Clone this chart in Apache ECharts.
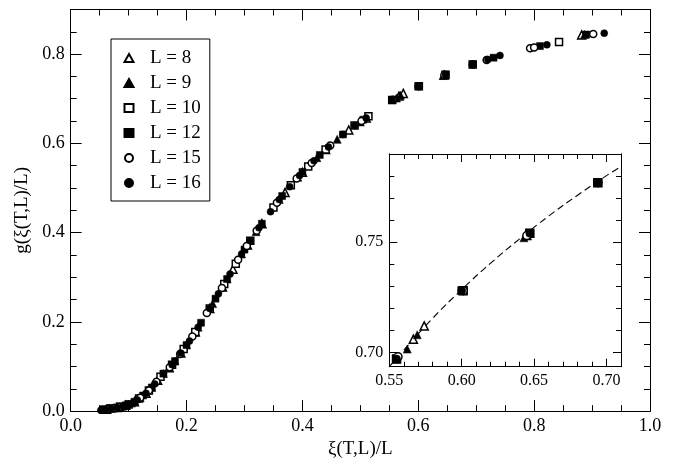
<!DOCTYPE html>
<html>
<head>
<meta charset="utf-8">
<script src="https://cdn.jsdelivr.net/npm/echarts@6/dist/echarts.min.js"></script>
<style>html,body{margin:0;padding:0;background:#fff}#c{width:676px;height:464px}</style>
</head>
<body>
<div id="c"></div>
<script>
// ---- data ----
const seriesNames = ['L = 8', 'L = 9', 'L = 10', 'L = 12', 'L = 15', 'L = 16'];

const L8x = [0.062,0.08,0.095,0.11,0.13,0.15,0.17,0.19,0.215,0.24,0.262,0.28,0.305,0.33,0.37,0.40,0.44,0.48,0.51,0.5666,0.5741,0.645,0.882];
const L8g = [0.004,0.008,0.013,0.021,0.040,0.069,0.097,0.130,0.177,0.230,0.278,0.318,0.372,0.420,0.490,0.535,0.586,0.630,0.657,0.706,0.712,0.753,0.843];

const L9x = [0.06,0.075,0.09,0.105,0.12,0.14,0.16,0.18,0.20,0.22,0.245,0.27,0.295,0.32,0.36,0.392,0.425,0.46,0.50,0.5624,0.5693,0.643,0.887];
const L9g = [0.004,0.007,0.011,0.018,0.030,0.053,0.084,0.112,0.148,0.188,0.241,0.296,0.352,0.402,0.474,0.524,0.568,0.609,0.648,0.7015,0.708,0.752,0.844];

const L10x = [0.058,0.07,0.085,0.10,0.118,0.135,0.155,0.175,0.195,0.215,0.24,0.265,0.285,0.31,0.35,0.38,0.41,0.44,0.49,0.514,0.555,0.601,0.647,0.694,0.843];
const L10g = [0.003,0.006,0.010,0.015,0.028,0.046,0.077,0.104,0.139,0.177,0.230,0.285,0.330,0.382,0.456,0.506,0.548,0.586,0.640,0.661,0.697,0.728,0.754,0.777,0.827];

const L12x = [0.056,0.068,0.08,0.095,0.11,0.125,0.14,0.16,0.18,0.20,0.225,0.25,0.27,0.30,0.33,0.365,0.40,0.43,0.47,0.505,0.555,0.60,0.647,0.694,0.73,0.81,0.89];
const L12g = [0.003,0.006,0.008,0.013,0.021,0.035,0.053,0.084,0.112,0.148,0.198,0.252,0.296,0.362,0.420,0.482,0.536,0.574,0.620,0.653,0.697,0.728,0.754,0.777,0.792,0.818,0.844];

const L15x = [0.055,0.065,0.075,0.085,0.10,0.12,0.135,0.148,0.171,0.189,0.21,0.235,0.261,0.289,0.304,0.321,0.356,0.39,0.416,0.448,0.502,0.556,0.601,0.645,0.694,0.718,0.793,0.80,0.902];
const L15g = [0.003,0.005,0.007,0.010,0.015,0.030,0.046,0.066,0.098,0.128,0.167,0.220,0.276,0.339,0.370,0.404,0.467,0.521,0.556,0.595,0.650,0.698,0.728,0.753,0.777,0.787,0.813,0.815,0.845];

const L16x = [0.052,0.06,0.07,0.08,0.09,0.10,0.115,0.13,0.145,0.16,0.175,0.19,0.205,0.22,0.24,0.255,0.275,0.295,0.31,0.325,0.345,0.36,0.378,0.395,0.42,0.445,0.47,0.49,0.51,0.555,0.60,0.647,0.694,0.72,0.741,0.822,0.921];
const L16g = [0.002,0.004,0.006,0.008,0.011,0.015,0.025,0.040,0.061,0.084,0.104,0.130,0.157,0.188,0.230,0.263,0.307,0.352,0.382,0.411,0.447,0.474,0.503,0.528,0.561,0.592,0.620,0.640,0.657,0.697,0.728,0.754,0.777,0.788,0.797,0.821,0.847];

// dashed fit curve in the inset
const fitX = [0.55,0.56,0.58,0.60,0.62,0.64,0.66,0.68,0.70,0.71];
const fitG = [0.6935,0.7010,0.7155,0.7285,0.7405,0.7515,0.7618,0.7713,0.7802,0.7843];

// tick label values
const mainXTicks = [0.0,0.2,0.4,0.6,0.8,1.0];
const mainYTicks = [0.0,0.2,0.4,0.6,0.8];
const insetXTicks = [0.55,0.60,0.65,0.70];
const insetYTicks = [0.70,0.75];

// ---- chart ----
const FONT = 'Liberation Serif';
const allX = [L8x, L9x, L10x, L12x, L15x, L16x];
const allG = [L8g, L9g, L10g, L12g, L15g, L16g];
const symbols = ['triangle','triangle','rect','rect','circle','circle'];
const filled = [false,true,false,true,false,true];

function pairs(xs, gs) { return xs.map((x, i) => [x, gs[i]]); }
const insetRange = {x0:0.55, x1:0.71, y0:0.6935, y1:0.79};
function inInset(p) { return p[0] >= insetRange.x0 && p[0] <= insetRange.x1 && p[1] >= insetRange.y0 && p[1] <= insetRange.y1; }

const black = '#000';
function axisBase(extra) {
  return Object.assign({
    type: 'value',
    splitLine: {show: false},
    axisLine: {show: true, onZero: false, lineStyle: {color: black, width: 1}},
    axisTick: {show: true, inside: true, length: 6, lineStyle: {color: black, width: 1}},
    axisLabel: {show: false},
    minorTick: {show: false},
    z: 5
  }, extra);
}
function fmtSet(set, digits) {
  return function (v) {
    for (const t of set) { if (Math.abs(t - v) < 1e-6) return t.toFixed(digits); }
    return '';
  };
}
const mainLabel = {show: true, fontFamily: FONT, fontSize: 18, color: black, margin: 6};
const insetLabel = {show: true, fontFamily: FONT, fontSize: 16, color: black, margin: 6};

const xAxes = [
  // main
  axisBase({gridIndex: 0, min: 0, max: 1, interval: 0.2, position: 'bottom',
    axisTick: {show: true, inside: true, length: 11, lineStyle: {color: black}},
    minorTick: {show: true, splitNumber: 4, length: 6, lineStyle: {color: black}},
    axisLabel: Object.assign({formatter: fmtSet(mainXTicks, 1)}, mainLabel),
    name: 'ξ(T,L)/L', nameLocation: 'middle', nameGap: 22,
    nameTextStyle: {fontFamily: FONT, fontSize: 19, color: black}}),
  axisBase({gridIndex: 0, min: 0, max: 1, interval: 0.2, position: 'top',
    axisTick: {show: true, inside: true, length: 11, lineStyle: {color: black}},
    minorTick: {show: true, splitNumber: 4, length: 6, lineStyle: {color: black}}}),
  // inset
  axisBase({gridIndex: 1, min: 0.55, max: 0.71, interval: 0.05, position: 'bottom',
    axisTick: {show: true, inside: true, length: 8, lineStyle: {color: black}},
    axisLabel: Object.assign({formatter: fmtSet(insetXTicks, 2), showMaxLabel: false}, insetLabel)}),
  axisBase({gridIndex: 1, min: 0.55, max: 0.71, interval: 0.01, position: 'bottom',
    axisTick: {show: true, inside: true, length: 5, lineStyle: {color: black}}}),
  axisBase({gridIndex: 1, min: 0.55, max: 0.71, interval: 0.05, position: 'top',
    axisTick: {show: true, inside: true, length: 8, lineStyle: {color: black}}}),
  axisBase({gridIndex: 1, min: 0.55, max: 0.71, interval: 0.01, position: 'top',
    axisTick: {show: true, inside: true, length: 5, lineStyle: {color: black}}})
];

const yAxes = [
  // main
  axisBase({gridIndex: 0, min: 0, max: 0.9, interval: 0.05, position: 'left',
    axisTick: {show: true, inside: true, length: 6, lineStyle: {color: black}}}),
  axisBase({gridIndex: 0, min: 0, max: 0.9, interval: 0.2, position: 'left',
    axisTick: {show: true, inside: true, length: 11, lineStyle: {color: black}},
    axisLabel: Object.assign({formatter: fmtSet(mainYTicks, 1), showMaxLabel: false}, mainLabel),
    name: 'g(ξ(T,L)/L)', nameLocation: 'middle', nameGap: 38, nameRotate: 90,
    nameTextStyle: {fontFamily: FONT, fontSize: 19, color: black}}),
  axisBase({gridIndex: 0, min: 0, max: 0.9, interval: 0.05, position: 'right',
    axisTick: {show: true, inside: true, length: 6, lineStyle: {color: black}}}),
  axisBase({gridIndex: 0, min: 0, max: 0.9, interval: 0.2, position: 'right',
    axisTick: {show: true, inside: true, length: 11, lineStyle: {color: black}}}),
  // inset (min not on a tick: let ECharts align ticks with a forced nice interval)
  axisBase({gridIndex: 1, min: insetRange.y0, max: insetRange.y1, splitNumber: 2, minInterval: 0.05, maxInterval: 0.05, position: 'left',
    axisTick: {show: true, inside: true, length: 8, lineStyle: {color: black}},
    axisLabel: Object.assign({formatter: fmtSet(insetYTicks, 2), showMinLabel: false, showMaxLabel: false}, insetLabel)}),
  axisBase({gridIndex: 1, min: insetRange.y0, max: insetRange.y1, splitNumber: 10, minInterval: 0.01, maxInterval: 0.01, position: 'left',
    axisTick: {show: true, inside: true, length: 5, lineStyle: {color: black}}}),
  axisBase({gridIndex: 1, min: insetRange.y0, max: insetRange.y1, splitNumber: 2, minInterval: 0.05, maxInterval: 0.05, position: 'right',
    axisTick: {show: true, inside: true, length: 8, lineStyle: {color: black}}}),
  axisBase({gridIndex: 1, min: insetRange.y0, max: insetRange.y1, splitNumber: 10, minInterval: 0.01, maxInterval: 0.01, position: 'right',
    axisTick: {show: true, inside: true, length: 5, lineStyle: {color: black}}})
];

const series = [];
seriesNames.forEach((name, i) => {
  const style = filled[i]
    ? {color: black, borderColor: black, borderWidth: 0.5, opacity: 1}
    : {color: '#fff', borderColor: black, borderWidth: 1.5, opacity: 1};
  const data = pairs(allX[i], allG[i]);
  series.push({
    type: 'scatter', name: name, xAxisIndex: 0, yAxisIndex: 1,
    symbol: symbols[i], symbolSize: symbols[i] === 'triangle' ? 8 : 7,
    symbolKeepAspect: true,
    itemStyle: style, data: data, silent: true, z: 2 + i
  });
  series.push({
    type: 'scatter', name: name, xAxisIndex: 2, yAxisIndex: 4,
    symbol: symbols[i], symbolSize: 8,
    symbolKeepAspect: true,
    itemStyle: style, data: data.filter(inInset), silent: true, z: 3 + i
  });
});
series.push({
  type: 'line', name: 'fit', xAxisIndex: 2, yAxisIndex: 4,
  data: pairs(fitX, fitG), smooth: true, showSymbol: false, symbol: 'none',
  lineStyle: {color: black, width: 1.1, type: [7, 4], opacity: 1}, silent: true, z: 1
});

const chart = echarts.init(document.getElementById('c'), null, {renderer: 'canvas'});
chart.setOption({
  animation: false,
  backgroundColor: '#fff',
  grid: [
    {left: 70.7, top: 9.5, right: 26, bottom: 49.7, containLabel: false},
    {left: 389.3, top: 154, right: 55, bottom: 97.3, containLabel: false}
  ],
  legend: {
    data: seriesNames, orient: 'vertical', left: 111, top: 39,
    padding: [9, 9, 8, 12.5], itemGap: 5, itemWidth: 9, itemHeight: 8,
    symbolKeepAspect: true,
    borderColor: black, borderWidth: 1, backgroundColor: '#fff',
    textStyle: {fontFamily: FONT, fontSize: 19, color: black, lineHeight: 20, padding: [0, 0, 0, 11.5]},
    selectedMode: false, z: 20
  },
  xAxis: xAxes,
  yAxis: yAxes,
  series: series
});
</script>
</body>
</html>
